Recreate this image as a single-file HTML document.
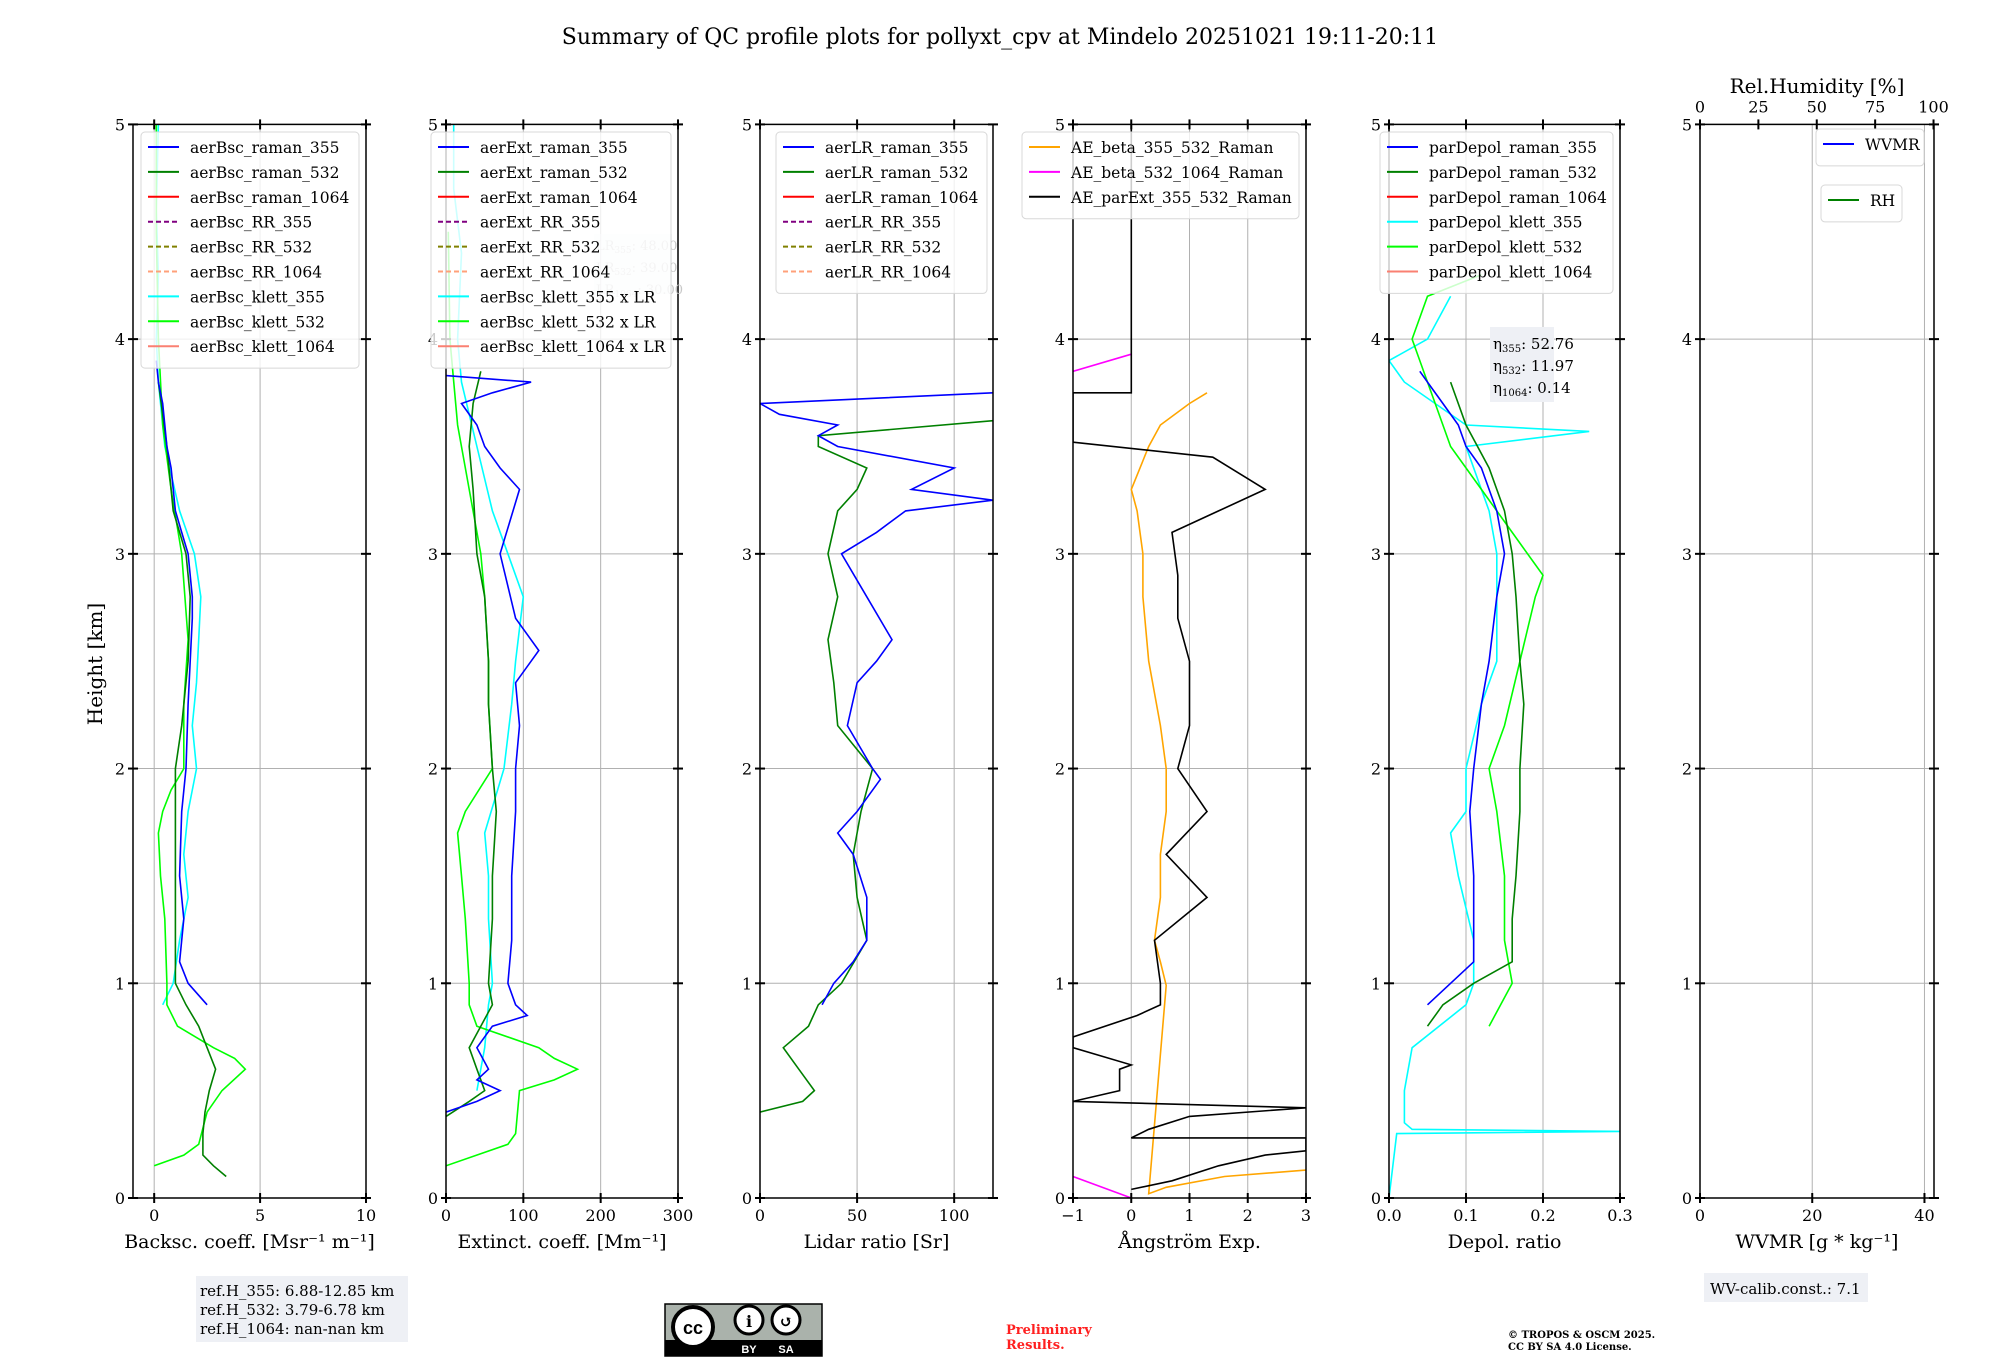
<!DOCTYPE html>
<html><head><meta charset="utf-8"><style>
html,body{margin:0;padding:0;background:#fff}
svg{display:block;font-family:"DejaVu Serif","Liberation Serif",serif}
</style></head><body>
<svg id="fig" width="2000" height="1360" viewBox="0 0 2000 1360" xmlns="http://www.w3.org/2000/svg">
<text x="1000" y="44" font-size="22" text-anchor="middle">Summary of QC profile plots for pollyxt_cpv at Mindelo 20251021 19:11-20:11</text>
<g id="plots"></g>
<text transform="translate(102,664) rotate(-90)" font-size="20" text-anchor="middle">Height [km]</text>
<g>
<rect x="196" y="1276" width="212" height="66" fill="#eef0f5"/>
<text x="200" y="1296" font-size="15">ref.H_355: 6.88-12.85 km</text>
<text x="200" y="1315" font-size="15">ref.H_532: 3.79-6.78 km</text>
<text x="200" y="1334" font-size="15">ref.H_1064: nan-nan km</text>
</g>
<g>
<rect x="665" y="1304" width="157" height="52" fill="#aab2ab" stroke="#000" stroke-width="1.5"/>
<rect x="665" y="1340" width="157" height="16" fill="#000"/>
<circle cx="693" cy="1327" r="20" fill="#fff" stroke="#000" stroke-width="4"/>
<text x="693" y="1334" font-size="18" font-weight="bold" text-anchor="middle" font-family="Liberation Sans">cc</text>
<circle cx="749" cy="1320" r="14" fill="#fff" stroke="#000" stroke-width="3"/>
<text x="749" y="1327" font-size="16" font-weight="bold" text-anchor="middle">i</text>
<circle cx="786" cy="1320" r="14" fill="#fff" stroke="#000" stroke-width="3"/>
<text x="786" y="1327" font-size="16" font-weight="bold" text-anchor="middle">↺</text>
<text x="749" y="1353" font-size="11" fill="#fff" text-anchor="middle" font-family="Liberation Sans" font-weight="bold">BY</text>
<text x="786" y="1353" font-size="11" fill="#fff" text-anchor="middle" font-family="Liberation Sans" font-weight="bold">SA</text>
</g>
<text x="1006" y="1334" font-size="13" fill="#ff2020" font-weight="bold"><tspan x="1006">Preliminary</tspan><tspan x="1006" dy="15">Results.</tspan></text>
<text x="1508" y="1338" font-size="10" font-weight="bold"><tspan x="1508">© TROPOS &amp; OSCM 2025.</tspan><tspan x="1508" dy="12">CC BY SA 4.0 License.</tspan></text>
<g>
<rect x="1704" y="1273" width="164" height="29" fill="#eef0f5"/>
<text x="1710" y="1294" font-size="15">WV-calib.const.: 7.1</text>
</g>
</svg>
<script>
const bsc355H=[0.9,1.0,1.1,1.3,1.5,1.8,2.0,2.3,2.5,2.7,2.8,3.0,3.1,3.2,3.4,3.5,3.7,3.8,3.9];
const bsc355X=[2.5,1.6,1.2,1.4,1.2,1.3,1.5,1.6,1.7,1.8,1.8,1.6,1.3,1.0,0.8,0.6,0.4,0.2,0.1];
const bsc532H=[0.1,0.15,0.2,0.3,0.4,0.5,0.6,0.7,0.8,0.9,1.0,1.2,1.5,1.8,2.0,2.2,2.5,2.8,3.0,3.2,3.5,3.8];
const bsc532X=[3.4,2.8,2.3,2.3,2.4,2.6,2.9,2.5,2.1,1.5,1.0,1.0,1.0,1.0,1.0,1.3,1.6,1.7,1.5,0.9,0.6,0.2];
const bscK355H=[0.9,1.0,1.2,1.4,1.6,1.8,2.0,2.2,2.4,2.6,2.8,3.0,3.2,3.5,3.8,4.0,4.3,4.6,5.0];
const bscK355X=[0.4,0.9,1.2,1.6,1.4,1.6,2.0,1.8,2.0,2.1,2.2,1.9,1.2,0.5,0.2,0.1,0.2,0.1,0.2];
const bscK532H=[0.15,0.2,0.25,0.4,0.5,0.6,0.65,0.7,0.8,0.9,1.0,1.3,1.5,1.7,1.8,1.9,2.0,2.3,2.6,3.0,3.3,3.6,4.0,4.5,5.0];
const bscK532X=[0.0,1.4,2.1,2.5,3.2,4.3,3.8,2.8,1.1,0.6,0.6,0.5,0.3,0.2,0.4,0.8,1.4,1.4,1.6,1.3,0.8,0.4,0.2,0.1,0.1];
const ext355H=[0.4,0.45,0.5,0.55,0.6,0.7,0.8,0.85,0.9,1.0,1.2,1.5,1.8,2.0,2.2,2.4,2.5,2.55,2.7,3.0,3.3,3.4,3.5,3.6,3.7,3.75,3.8,3.83];
const ext355X=[0,40,70,40,55,40,60,105,90,80,85,85,90,90,95,90,110,120,90,70,95,70,50,40,20,60,110,0];
const ext532H=[0.38,0.45,0.5,0.6,0.7,0.8,0.9,1.0,1.3,1.5,1.8,2.0,2.3,2.5,2.8,3.0,3.3,3.5,3.7,3.85];
const ext532X=[0,30,50,40,30,45,60,55,60,60,65,60,55,55,50,40,35,30,35,45];
const extK355H=[0.5,0.7,0.9,1.0,1.3,1.5,1.7,2.0,2.3,2.5,2.8,3.0,3.2,3.5,3.8,4.0,4.4,4.7,5.0];
const extK355X=[40,50,55,60,55,55,50,75,85,90,100,80,60,40,20,15,20,10,10];
const extK532H=[0.15,0.25,0.3,0.5,0.55,0.6,0.65,0.7,0.8,0.9,1.0,1.3,1.5,1.7,1.8,2.0,2.3,2.5,2.8,3.0,3.3,3.6,4.0,4.5];
const extK532X=[0,80,90,95,140,170,140,120,40,30,30,25,20,15,25,60,55,55,50,45,30,15,5,3];
const lr355H=[0.9,1.0,1.1,1.2,1.4,1.6,1.7,1.8,1.95,2.0,2.2,2.4,2.5,2.6,2.8,3.0,3.1,3.2,3.25,3.3,3.4,3.5,3.55,3.6,3.65,3.7,3.75];
const lr355X=[32,38,48,55,55,48,40,50,62,58,45,50,60,68,55,42,60,75,120,78,100,40,30,40,10,0,120];
const lr532H=[0.4,0.45,0.5,0.6,0.7,0.8,0.9,1.0,1.2,1.4,1.6,1.8,2.0,2.2,2.4,2.6,2.8,3.0,3.2,3.3,3.4,3.5,3.55,3.62];
const lr532X=[0,22,28,20,12,25,30,42,55,50,48,52,58,40,38,35,40,35,40,50,55,30,30,120];
const aeB355H=[0.13,0.1,0.05,0.02,0.99,1.1,1.2,1.4,1.6,1.8,2.0,2.2,2.5,2.8,3.0,3.2,3.3,3.5,3.6,3.7,3.75];
const aeB355X=[3.0,1.6,0.6,0.3,0.6,0.5,0.4,0.5,0.5,0.6,0.6,0.5,0.3,0.2,0.2,0.1,0.0,0.3,0.5,1.0,1.3];
const aeB532H=[0.0,0.1];
const aeB532X=[0.0,-1.0];
const aeB532bH=[3.85,3.93];
const aeB532bX=[-1.0,0.0];
const aeExtH=[0.04,0.08,0.15,0.2,0.22,0.28,0.28,0.32,0.38,0.42,0.45,0.5,0.6,0.62,0.7,0.75,0.85,0.9,1.0,1.2,1.4,1.6,1.8,2.0,2.2,2.5,2.7,2.9,3.1,3.2,3.3,3.35,3.45,3.52,3.75,3.75,5.0];
const aeExtX=[0,0.7,1.5,2.3,3.0,3.0,0.0,0.3,1.0,3.0,-1.0,-0.2,-0.2,0.0,-1.0,-1.0,0.1,0.5,0.5,0.4,1.3,0.6,1.3,0.8,1.0,1.0,0.8,0.8,0.7,1.5,2.3,2.0,1.4,-1.0,-1.0,0.0,0.0];
const dp355H=[0.9,1.0,1.1,1.3,1.5,1.8,2.0,2.3,2.5,2.8,3.0,3.2,3.4,3.5,3.6,3.7,3.8,3.85];
const dp355X=[0.05,0.08,0.11,0.11,0.11,0.105,0.11,0.12,0.13,0.14,0.15,0.14,0.12,0.1,0.09,0.07,0.05,0.04];
const dp532H=[0.8,0.9,1.0,1.1,1.3,1.5,1.8,2.0,2.3,2.5,2.8,3.0,3.2,3.4,3.6,3.8];
const dp532X=[0.05,0.07,0.11,0.16,0.16,0.165,0.17,0.17,0.175,0.17,0.165,0.16,0.15,0.13,0.1,0.08];
const dpK355H=[0.0,0.3,0.31,0.32,0.35,0.5,0.7,0.9,1.0,1.2,1.5,1.7,1.8,2.0,2.3,2.5,2.8,3.0,3.2,3.5,3.57,3.6,3.8,3.9,4.0,4.2];
const dpK355X=[0.0,0.01,0.3,0.03,0.02,0.02,0.03,0.1,0.11,0.11,0.09,0.08,0.1,0.1,0.12,0.14,0.14,0.14,0.13,0.1,0.26,0.1,0.02,0.0,0.05,0.08];
const dpK532H=[0.8,1.0,1.2,1.5,1.8,2.0,2.2,2.5,2.8,2.9,3.1,3.3,3.5,3.7,3.8,4.0,4.2,4.3];
const dpK532X=[0.13,0.16,0.15,0.15,0.14,0.13,0.15,0.17,0.19,0.2,0.16,0.12,0.08,0.06,0.05,0.03,0.05,0.12];

const NS="http://www.w3.org/2000/svg";
const root=document.getElementById('plots');
const YT=124.4,YB=1198;
function Y(h){return YB-(h/5)*(YB-YT);}
function mk(tag,attrs,parent){const e=document.createElementNS(NS,tag);for(const k in attrs)e.setAttribute(k,attrs[k]);(parent||root).appendChild(e);return e;}

const panels=[
 {x0:133,x1:366,lim:[-1,10],ticks:[0,5,10],lab:'Backsc. coeff. [Msr⁻¹ m⁻¹]',name:'backscatter-panel'},
 {x0:446,x1:678,lim:[0,300],ticks:[0,100,200,300],lab:'Extinct. coeff. [Mm⁻¹]',name:'extinction-panel'},
 {x0:760,x1:993,lim:[0,120],ticks:[0,50,100],lab:'Lidar ratio [Sr]',name:'lidar-ratio-panel'},
 {x0:1073,x1:1306,lim:[-1,3],ticks:[-1,0,1,2,3],lab:'Ångström Exp.',name:'angstrom-panel'},
 {x0:1389,x1:1620,lim:[0,0.3],ticks:[0,0.1,0.2,0.3],lab:'Depol. ratio',name:'depol-panel',dec:1},
 {x0:1700,x1:1934,lim:[0,41.7],ticks:[0,20,40],lab:'WVMR [g * kg⁻¹]',name:'wv-panel'}
];
function X(p,v){return p.x0+(v-p.lim[0])/(p.lim[1]-p.lim[0])*(p.x1-p.x0);}
function fmt(p,t){let s=p.dec?t.toFixed(p.dec):String(t);return s.replace('-','−');}

panels.forEach((p,i)=>{
 const g=mk('g',{});
 
 
 const cp=mk('clipPath',{id:'cp'+i},g);mk('rect',{x:p.x0,y:YT,width:p.x1-p.x0,height:YB-YT},cp);
 p.ticks.forEach(t=>{const x=X(p,t);mk('line',{x1:x,x2:x,y1:YT,y2:YB,stroke:'#b0b0b0','stroke-width':1},g);});
 for(let h=1;h<5;h++){mk('line',{x1:p.x0,x2:p.x1,y1:Y(h),y2:Y(h),stroke:'#b0b0b0','stroke-width':1},g);}
 p.g=g;p.clip='url(#cp'+i+')';
});

function series(pi,hs,xs,color,name,dash){
 const p=panels[pi];
 const pts=hs.map((h,k)=>X(p,xs[k]).toFixed(1)+','+Y(h).toFixed(1)).join(' ');
 const e=mk('polyline',{points:pts,fill:'none',stroke:color,'stroke-width':1.6,'clip-path':p.clip},p.g);
 if(dash)e.setAttribute('stroke-dasharray',dash);
 
 
}
series(0,bscK355H,bscK355X,'#00ffff','bsc-klett-355-line');
series(0,bscK532H,bscK532X,'#00ff00','bsc-klett-532-line');
series(0,bsc532H,bsc532X,'#008000','bsc-raman-532-line');
series(0,bsc355H,bsc355X,'#0000ff','bsc-raman-355-line');
series(1,extK355H,extK355X,'#00ffff','ext-klett-355-line');
series(1,extK532H,extK532X,'#00ff00','ext-klett-532-line');
series(1,ext532H,ext532X,'#008000','ext-raman-532-line');
series(1,ext355H,ext355X,'#0000ff','ext-raman-355-line');
series(2,lr532H,lr532X,'#008000','lr-raman-532-line');
series(2,lr355H,lr355X,'#0000ff','lr-raman-355-line');
series(3,aeB355H,aeB355X,'#ffa500','ae-beta-355-532-line');
series(3,aeB532H,aeB532X,'#ff00ff','ae-beta-532-1064-line-low');
series(3,aeB532bH,aeB532bX,'#ff00ff','ae-beta-532-1064-line-high');
series(3,aeExtH,aeExtX,'#000000','ae-parext-355-532-line');
series(4,dpK355H,dpK355X,'#00ffff','depol-klett-355-line');
series(4,dpK532H,dpK532X,'#00ff00','depol-klett-532-line');
series(4,dp532H,dp532X,'#008000','depol-raman-532-line');
series(4,dp355H,dp355X,'#0000ff','depol-raman-355-line');

panels.forEach((p,i)=>{
 const g=p.g;
 mk('rect',{x:p.x0,y:YT,width:p.x1-p.x0,height:YB-YT,fill:'none',stroke:'#000','stroke-width':1.5},g);
 p.ticks.forEach(t=>{const x=X(p,t);
  mk('line',{x1:x,x2:x,y1:YB-5,y2:YB+5,stroke:'#000','stroke-width':2},g);
  if(i<5)mk('line',{x1:x,x2:x,y1:YT-5,y2:YT+5,stroke:'#000','stroke-width':2},g);
  const tl=mk('text',{x:x,y:YB+23,'font-size':16,'text-anchor':'middle'},g);tl.textContent=fmt(p,t);
  
  
 });
 for(let h=0;h<=5;h++){const y=Y(h);
  mk('line',{x1:p.x0-5,x2:p.x0+5,y1:y,y2:y,stroke:'#000','stroke-width':2},g);
  mk('line',{x1:p.x1-5,x2:p.x1+5,y1:y,y2:y,stroke:'#000','stroke-width':2},g);
  const tl=mk('text',{x:p.x0-8,y:y+6,'font-size':16,'text-anchor':'end'},g);tl.textContent=h;
  
  
 }
 const al=mk('text',{x:(p.x0+p.x1)/2,y:1248,'font-size':19,'text-anchor':'middle'},g);al.textContent=p.lab;
 
 
});
(function(){const p=panels[5];const rh=[0,25,50,75,100];
 rh.forEach(v=>{const x=p.x0+v/100*(p.x1-p.x0)*0.998;
  mk('line',{x1:x,x2:x,y1:YT-5,y2:YT+5,stroke:'#000','stroke-width':2},p.g);
  const t=mk('text',{x:x,y:YT-12,'font-size':16,'text-anchor':'middle'},p.g);t.textContent=v;
  
  });
 const t=mk('text',{x:(p.x0+p.x1)/2,y:93,'font-size':20,'text-anchor':'middle'},p.g);t.textContent='Rel.Humidity [%]';
 
 
})();

(function(){
 const g=panels[1].g;
 mk('rect',{x:594,y:234,width:78,height:60,fill:'#eef0f5',opacity:0.5},g);
 [['355','48.00',250],['532','39.00',272],['1064','30.00',294]].forEach(r=>{
  const t=mk('text',{x:596,y:r[2],'font-size':13,fill:'#c8c8c8'},g);
  t.innerHTML='LR<tspan font-size="9" dy="3">'+r[0]+'</tspan><tspan dy="-3">: '+r[1]+'</tspan>';
  
  });
 const g4=panels[4].g;
 mk('rect',{x:1490,y:327,width:64,height:75,fill:'#eef0f5'},g4);
 [['355','52.76',349],['532','11.97',371],['1064','0.14',393]].forEach(r=>{
  const t=mk('text',{x:1493,y:r[2],'font-size':15},g4);
  t.innerHTML='η<tspan font-size="10" dy="3">'+r[0]+'</tspan><tspan dy="-3">: '+r[1]+'</tspan>';
  
  });
})();

function legend(pi,x,y,w,items,name){
 const g=mk('g',{},panels[pi].g);
 
 
 mk('rect',{x:x,y:y,width:w,height:items.length*24.9+12,rx:4,fill:'#fff','fill-opacity':0.8,stroke:'#d8d8d8'},g);
 items.forEach((it,k)=>{const yy=y+15+k*24.9;
  const l=mk('line',{x1:x+7,x2:x+38,y1:yy,y2:yy,stroke:it[1],'stroke-width':2},g);
  if(it[2])l.setAttribute('stroke-dasharray','5,3');
  const t=mk('text',{x:x+49,y:yy+6,'font-size':15.5},g);t.textContent=it[0];
  
  
 });
}
const sfx=['raman_355','raman_532','raman_1064','RR_355','RR_532','RR_1064'];
const cols=[['#0000ff'],['#008000'],['#ff0000'],['#800080',1],['#808000',1],['#ffa07a',1]];
legend(0,141,132,218,sfx.map((s,k)=>['aerBsc_'+s,cols[k][0],cols[k][1]]).concat([['aerBsc_klett_355','#00ffff'],['aerBsc_klett_532','#00ff00'],['aerBsc_klett_1064','#fa8072']]),'backscatter-legend');
legend(1,431,132,240,sfx.map((s,k)=>['aerExt_'+s,cols[k][0],cols[k][1]]).concat([['aerBsc_klett_355 x LR','#00ffff'],['aerBsc_klett_532 x LR','#00ff00'],['aerBsc_klett_1064 x LR','#fa8072']]),'extinction-legend');
legend(2,776,132,211,sfx.map((s,k)=>['aerLR_'+s,cols[k][0],cols[k][1]]),'lidar-ratio-legend');
legend(3,1022,132,277,[['AE_beta_355_532_Raman','#ffa500'],['AE_beta_532_1064_Raman','#ff00ff'],['AE_parExt_355_532_Raman','#000000']],'angstrom-legend');
legend(4,1380,132,233,[['parDepol_raman_355','#0000ff'],['parDepol_raman_532','#008000'],['parDepol_raman_1064','#ff0000'],['parDepol_klett_355','#00ffff'],['parDepol_klett_532','#00ff00'],['parDepol_klett_1064','#fa8072']],'depol-legend');
legend(5,1816,129,108,[['WVMR','#0000ff']],'wvmr-legend');
legend(5,1821,185,81,[['RH','#008000']],'rh-legend');
</script>
</body></html>
